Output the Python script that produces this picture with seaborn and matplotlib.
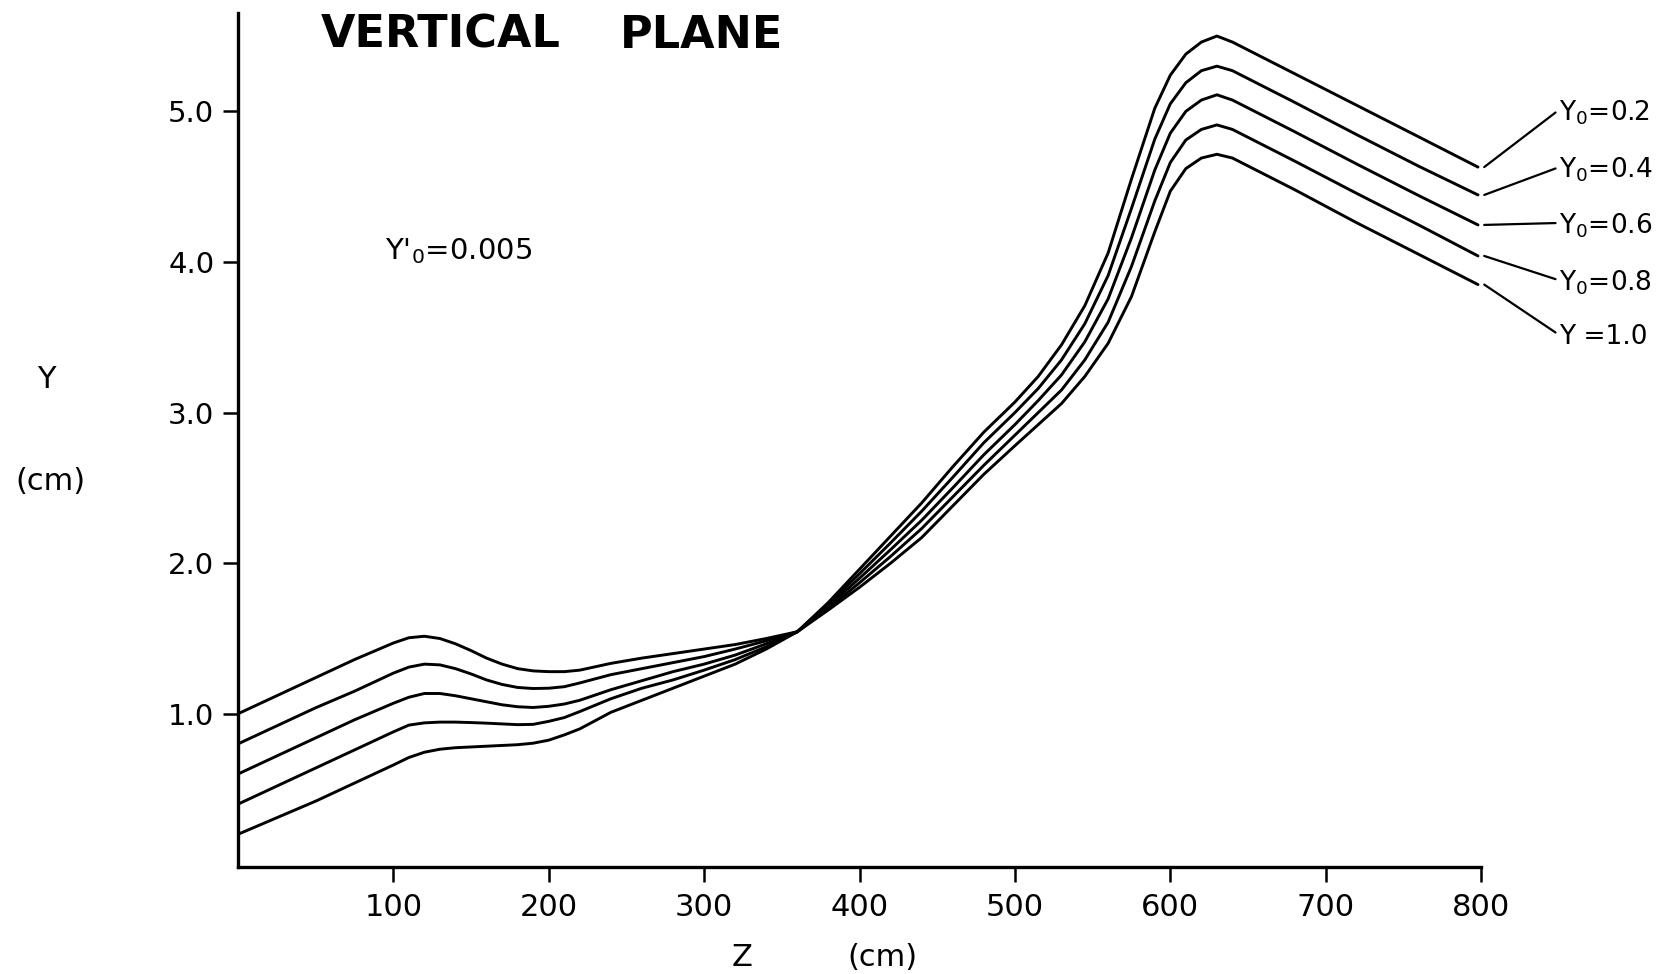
import matplotlib
matplotlib.use("Agg")
import matplotlib.pyplot as plt
import numpy as np
import pandas as pd
import seaborn as sns

# ---------------- data ----------------
Z = [0, 25, 50, 75, 100, 110, 120, 130, 140, 150, 160, 170, 180, 190, 200, 210,
     220, 240, 260, 280, 300, 320, 340, 360, 380, 400, 420, 440, 460, 480, 500,
     515, 530, 545, 560, 575, 590, 600, 610, 620, 630, 640, 680, 720, 760, 798]

Y_02 = [0.20, 0.31, 0.42, 0.54, 0.66, 0.71, 0.745, 0.765, 0.775, 0.78, 0.785, 0.79,
        0.795, 0.805, 0.825, 0.86, 0.90, 1.01, 1.09, 1.17, 1.25, 1.33, 1.43, 1.545,
        1.74, 1.96, 2.18, 2.40, 2.64, 2.87, 3.07, 3.24, 3.45, 3.71, 4.06, 4.55, 5.02,
        5.24, 5.38, 5.46, 5.50, 5.46, 5.25, 5.04, 4.83, 4.63]
Y_04 = [0.40, 0.52, 0.64, 0.76, 0.88, 0.925, 0.94, 0.945, 0.945, 0.942, 0.938, 0.933,
        0.928, 0.93, 0.95, 0.975, 1.015, 1.10, 1.17, 1.225, 1.29, 1.36, 1.445, 1.545,
        1.73, 1.93, 2.135, 2.345, 2.57, 2.80, 3.00, 3.16, 3.35, 3.59, 3.91, 4.355, 4.815,
        5.05, 5.19, 5.27, 5.30, 5.27, 5.06, 4.845, 4.635, 4.445]
Y_06 = [0.60, 0.72, 0.84, 0.96, 1.07, 1.11, 1.135, 1.135, 1.12, 1.10, 1.08, 1.06,
        1.047, 1.042, 1.05, 1.065, 1.09, 1.16, 1.22, 1.28, 1.33, 1.39, 1.465, 1.545,
        1.715, 1.90, 2.09, 2.285, 2.50, 2.72, 2.92, 3.08, 3.25, 3.47, 3.755, 4.16, 4.61,
        4.855, 5.00, 5.075, 5.11, 5.075, 4.865, 4.65, 4.44, 4.246]
Y_08 = [0.80, 0.92, 1.04, 1.15, 1.27, 1.31, 1.33, 1.325, 1.30, 1.265, 1.225, 1.195,
        1.175, 1.168, 1.17, 1.18, 1.205, 1.26, 1.30, 1.34, 1.38, 1.43, 1.485, 1.545,
        1.70, 1.87, 2.045, 2.23, 2.44, 2.65, 2.85, 3.00, 3.15, 3.35, 3.60, 3.97, 4.405,
        4.66, 4.81, 4.88, 4.91, 4.88, 4.67, 4.455, 4.245, 4.04]
Y_10 = [1.00, 1.12, 1.24, 1.36, 1.47, 1.505, 1.515, 1.50, 1.465, 1.42, 1.37, 1.33,
        1.30, 1.285, 1.28, 1.28, 1.29, 1.335, 1.37, 1.40, 1.43, 1.46, 1.50, 1.545,
        1.69, 1.84, 2.00, 2.17, 2.38, 2.59, 2.78, 2.92, 3.06, 3.24, 3.46, 3.77, 4.20,
        4.47, 4.62, 4.69, 4.715, 4.69, 4.48, 4.26, 4.05, 3.85]

SERIES = ["0.2", "0.4", "0.6", "0.8", "1.0"]
SERIES_LABELS = ["Y$_0$=0.2", "Y$_0$=0.4", "Y$_0$=0.6", "Y$_0$=0.8", "Y =1.0"]
LABEL_Y = [4.99, 4.61, 4.24, 3.86, 3.50]

X_TICKS = [100, 200, 300, 400, 500, 600, 700, 800]
Y_TICKS = [1.0, 2.0, 3.0, 4.0, 5.0]
Y_TICKLABELS = ["1.0", "2.0", "3.0", "4.0", "5.0"]

TITLE_WORDS = ["VERTICAL", "PLANE"]
NOTE = "Y$'_0$=0.005"

# ---------------- build ----------------
values = [Y_02, Y_04, Y_06, Y_08, Y_10]
df = pd.concat(
    [pd.DataFrame({"z": Z, "y": v, "series": s}) for s, v in zip(SERIES, values)],
    ignore_index=True,
)

sns.set_theme(style="ticks")
plt.rcParams["font.family"] = ["DejaVu Sans"]
plt.rcParams["mathtext.default"] = "regular"

W, H = 1663, 974
fig = plt.figure(figsize=(W / 100, H / 100), dpi=100)
fig.patch.set_facecolor("white")
left, right = 237.9 / W, 1481.1 / W
bottom, top = 1 - 866.7 / H, 1 - 12.7 / H
ax = fig.add_axes([left, bottom, right - left, top - bottom])
ax.set_facecolor("white")

sns.lineplot(data=df, x="z", y="y", hue="series", palette=["black"] * 5,
             sort=False, estimator=None, linewidth=2.1, legend=False, ax=ax)

ax.set_xlim(0, 800)
ax.set_ylim(-0.015, 5.655)
sns.despine(ax=ax)
for sp in ("left", "bottom"):
    ax.spines[sp].set_linewidth(2.4)
    ax.spines[sp].set_color("black")

ax.set_xticks(X_TICKS)
ax.set_xticklabels([str(t) for t in X_TICKS])
ax.set_yticks(Y_TICKS)
ax.set_yticklabels(Y_TICKLABELS)
ax.tick_params(axis="x", direction="out", length=11, width=1.8, pad=8,
               labelsize=22, colors="black")
ax.tick_params(axis="y", direction="out", length=11, width=1.8, pad=6,
               labelsize=21, colors="black")
ax.set_xlabel("")
ax.set_ylabel("")

# right-hand labels with leader lines
ends = [v[-1] for v in values]
for lab, ye, yl in zip(SERIES_LABELS, ends, LABEL_Y):
    ax.annotate(lab, xy=(802, ye), xytext=(850, yl), textcoords="data",
                ha="left", va="center", fontsize=19, color="black",
                annotation_clip=False,
                arrowprops=dict(arrowstyle="-", lw=1.6, color="black",
                                shrinkA=0, shrinkB=0, relpos=(0, 0.6)))

# texts
fig.text(321 / W, 1 - 47.7 / H, TITLE_WORDS[0], ha="left", va="baseline",
         fontsize=32, fontweight="bold", color="black")
fig.text(620 / W, 1 - 47.7 / H, TITLE_WORDS[1], ha="left", va="baseline",
         fontsize=32, fontweight="bold", color="black")
fig.text(385 / W, 1 - 259 / H, NOTE, ha="left", va="baseline",
         fontsize=21, color="black")
fig.text(46 / W, 1 - 380 / H, "Y", ha="center", va="center", fontsize=22, color="black")
fig.text(50 / W, 1 - 482 / H, "(cm)", ha="center", va="center", fontsize=22, color="black")
fig.text(742 / W, 1 - 958 / H, "Z", ha="center", va="center", fontsize=22, color="black")
fig.text(882 / W, 1 - 958 / H, "(cm)", ha="center", va="center", fontsize=22, color="black")

fig.savefig("out.png", dpi=100, facecolor="white")
